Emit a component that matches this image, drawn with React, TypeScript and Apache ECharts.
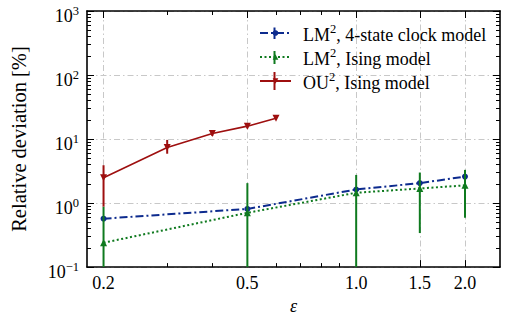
import React, { useEffect, useRef } from 'react';
import * as echarts from 'echarts';

// ---- data ----
const epsClock = [0.2, 0.5, 1.0, 1.5, 2.0];
const clockValues = [0.57, 0.81, 1.63, 2.05, 2.59];
const clockLow = [0.545, 0.78, 1.57, 1.97, 2.48];
const clockHigh = [0.6, 0.84, 1.7, 2.13, 2.7];

const epsIsingLM = [0.2, 0.5, 1.0, 1.5, 2.0];
const isingLMValues = [0.24, 0.705, 1.45, 1.69, 1.89];
const isingLMLow = [0.01, 0.01, 0.01, 0.34, 0.59];
const isingLMHigh = [0.88, 2.05, 2.75, 3.0, 3.3];

const epsIsingOU = [0.2, 0.3, 0.4, 0.5, 0.6];
const isingOUValues = [2.48, 7.4, 12.2, 15.9, 21.2];
const isingOULow = [0.88, 5.9, 11.2, 14.7, 20.0];
const isingOUHigh = [3.9, 9.7, 13.3, 17.2, 22.5];

const seriesNames = ['LM², 4-state clock model', 'LM², Ising model', 'OU², Ising model'];

// ---- ticks ----
const xMajor = [0.2, 0.5, 1.0, 1.5, 2.0];
const xMinor = [0.3, 0.4, 0.6, 0.7, 0.8, 0.9];
const yMajor = [0.1, 1, 10, 100, 1000];
const yMinor = [
  0.2, 0.3, 0.4, 0.5, 0.6, 0.7, 0.8, 0.9,
  2, 3, 4, 5, 6, 7, 8, 9,
  20, 30, 40, 50, 60, 70, 80, 90,
  200, 300, 400, 500, 600, 700, 800, 900,
];

const BLUE = '#0d2b8e';
const GREEN = '#0f7a1f';
const RED = '#9e0f0f';
const serif = "'Liberation Serif', 'Times New Roman', serif";

const X_MIN = 0.18;
const X_MAX = 2.5;
const Y_MIN = 0.1;
const Y_MAX = 1000;

function xAxisCfg(position: string, ticks: number[], len: number, opts: any = {}) {
  return {
    type: 'log',
    logBase: 10,
    min: X_MIN,
    max: X_MAX,
    position,
    axisLine: { show: !!opts.line, onZero: false, lineStyle: { color: '#000', width: 1.6 } },
    axisTick: { show: true, inside: true, length: len, customValues: ticks, lineStyle: { color: '#000', width: 1 } },
    axisLabel: opts.label
      ? {
          show: true,
          customValues: ticks,
          formatter: (v: number) => v.toFixed(1),
          fontFamily: serif,
          fontSize: 18,
          color: '#000',
          margin: 7,
        }
      : { show: false },
    splitLine: opts.split
      ? { show: true, lineStyle: { color: '#c8c8c8', width: 1, type: [6, 3, 1.5, 3] } }
      : { show: false },
    minorTick: { show: false },
    minorSplitLine: { show: false },
    name: opts.name || '',
    nameLocation: 'middle',
    nameGap: 23,
    nameTextStyle: { fontFamily: serif, fontSize: 18, fontStyle: 'italic', color: '#000' },
  };
}

function yAxisCfg(position: string, ticks: number[], len: number, opts: any = {}) {
  return {
    type: 'log',
    logBase: 10,
    min: Y_MIN,
    max: Y_MAX,
    position,
    axisLine: { show: !!opts.line, onZero: false, lineStyle: { color: '#000', width: 1.6 } },
    axisTick: { show: true, inside: true, length: len, customValues: ticks, lineStyle: { color: '#000', width: 1 } },
    axisLabel: opts.label
      ? {
          show: true,
          customValues: ticks,
          formatter: (v: number) => {
            const e = Math.round(Math.log10(v));
            const s = e < 0 ? '−' + String(-e) : String(e);
            return '{b|10}{s|' + s + '}';
          },
          rich: {
            b: { fontFamily: serif, fontSize: 18, lineHeight: 20, verticalAlign: 'bottom', color: '#000' },
            s: { fontFamily: serif, fontSize: 12.5, lineHeight: 12, verticalAlign: 'top', color: '#000' },
          },
          padding: [7, 0, 0, 0],
          margin: 8,
        }
      : { show: false },
    splitLine: opts.split
      ? { show: true, lineStyle: { color: '#c8c8c8', width: 1, type: [6, 3, 1.5, 3] } }
      : { show: false },
    minorTick: { show: false },
    minorSplitLine: { show: false },
    name: opts.name || '',
    nameLocation: 'middle',
    nameGap: 58,
    nameRotate: 90,
    nameTextStyle: { fontFamily: serif, fontSize: 20.5, color: '#000' },
  };
}

function errorSeries(name: string, xs: number[], lo: number[], hi: number[], color: string, z: number) {
  return {
    type: 'custom',
    name,
    xAxisIndex: 0,
    yAxisIndex: 0,
    clip: true,
    z,
    silent: true,
    encode: { x: 0, y: [1, 2] },
    data: xs.map((x, i) => [x, lo[i], hi[i]]),
    renderItem: (params: any, api: any) => {
      const x = api.value(0);
      const p1 = api.coord([x, api.value(1)]);
      const p2 = api.coord([x, api.value(2)]);
      return {
        type: 'line',
        shape: { x1: p1[0], y1: p1[1], x2: p2[0], y2: p2[1] },
        style: { stroke: color, lineWidth: 2 },
      };
    },
  };
}

function lineSeries(name: string, xs: number[], ys: number[], color: string, symbol: string, size: number, lineType: any, width: number, z: number) {
  return {
    type: 'line',
    name,
    xAxisIndex: 0,
    yAxisIndex: 0,
    z,
    data: xs.map((x, i) => [x, ys[i]]),
    symbol,
    symbolSize: size,
    showSymbol: true,
    color,
    itemStyle: { color },
    lineStyle: { color, width, type: lineType },
    emphasis: { disabled: true },
  };
}

export default function App() {
  const ref = useRef<HTMLDivElement>(null);
  useEffect(() => {
    if (!ref.current) return;
    const chart = echarts.init(ref.current, undefined, { renderer: 'svg' });
    const legendRich = {
      a: { fontFamily: serif, fontSize: 18, lineHeight: 22, verticalAlign: 'bottom', color: '#000' },
      s: { fontFamily: serif, fontSize: 12.5, lineHeight: 12, verticalAlign: 'top', color: '#000' },
    };
    chart.setOption({
      animation: false,
      backgroundColor: '#fff',
      grid: { left: 70, right: 5, top: 11, bottom: 44, containLabel: false },
      xAxis: [
        xAxisCfg('bottom', xMajor, 7, { line: true, label: true, split: true, name: 'ε' }),
        xAxisCfg('bottom', xMinor, 4),
        xAxisCfg('top', xMajor, 7, { line: true }),
        xAxisCfg('top', xMinor, 4),
      ],
      yAxis: [
        yAxisCfg('left', yMajor, 7, { line: true, label: true, split: true, name: 'Relative deviation [%]' }),
        yAxisCfg('left', yMinor, 4),
        yAxisCfg('right', yMajor, 7, { line: true }),
        yAxisCfg('right', yMinor, 4),
      ],
      legend: {
        orient: 'vertical',
        left: 259,
        top: 22,
        padding: 0,
        itemWidth: 31,
        itemHeight: 7,
        itemGap: 2,
        data: seriesNames,
        formatter: (name: string) => {
          const parts = name.split('²');
          return '{a|' + parts[0] + '}{s|2}{a|' + parts[1] + '}';
        },
        textStyle: { padding: [0, 0, 0, 7], rich: legendRich },
        selectedMode: false,
      },
      graphic: [
        { type: 'line', shape: { x1: 274.5, y1: 27.5, x2: 274.5, y2: 39 }, style: { stroke: BLUE, lineWidth: 2 }, z: 100 },
        { type: 'line', shape: { x1: 274.5, y1: 51, x2: 274.5, y2: 64 }, style: { stroke: GREEN, lineWidth: 2 }, z: 100 },
        { type: 'line', shape: { x1: 274.5, y1: 72, x2: 274.5, y2: 90 }, style: { stroke: RED, lineWidth: 2 }, z: 100 },
      ],
      series: [
        lineSeries(seriesNames[0], epsClock, clockValues, BLUE, 'circle', 6, [8, 3, 2, 3], 2, 4),
        errorSeries(seriesNames[0], epsClock, clockLow, clockHigh, BLUE, 3),
        lineSeries(seriesNames[1], epsIsingLM, isingLMValues, GREEN, 'triangle', 7, [2, 2.5], 2, 6),
        errorSeries(seriesNames[1], epsIsingLM, isingLMLow, isingLMHigh, GREEN, 5),
        lineSeries(seriesNames[2], epsIsingOU, isingOUValues, RED, 'path://M0,0 L10,0 L5,9 Z', 7, 'solid', 1.6, 8),
        errorSeries(seriesNames[2], epsIsingOU, isingOULow, isingOUHigh, RED, 7),
      ],
    });
    return () => chart.dispose();
  }, []);
  return <div ref={ref} style={{ width: 505, height: 320, position: 'absolute', left: 0, top: 0 }} />;
}
